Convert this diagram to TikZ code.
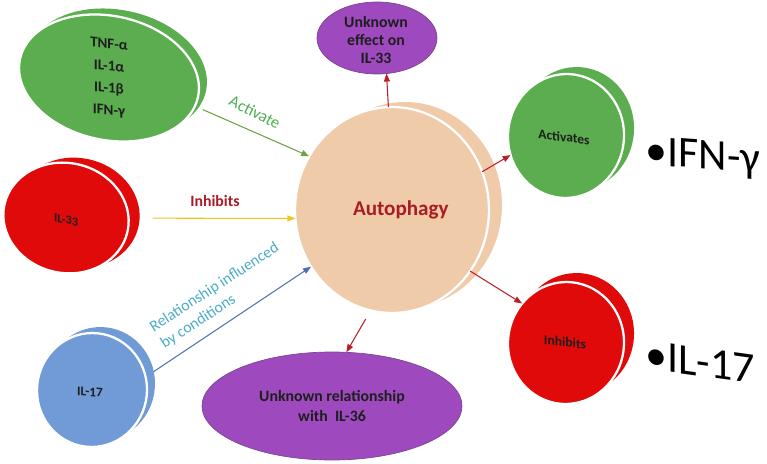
\documentclass[tikz,border=0pt]{standalone}
\usepackage{fontspec}
\setmainfont{Carlito}
\usepackage{tikz}
\usetikzlibrary{shapes.geometric, arrows.meta, positioning}
\definecolor{apgreen}{RGB}{92,172,80}
\definecolor{apred}{RGB}{224,10,10}
\definecolor{appurple}{RGB}{158,74,190}
\definecolor{appurpleline}{RGB}{120,70,140}
\definecolor{apblue}{RGB}{112,155,214}
\definecolor{appeach}{RGB}{240,203,170}
\definecolor{apdarkred}{RGB}{168,28,36}
\definecolor{aparrowred}{RGB}{188,30,40}
\definecolor{aplblgreen}{RGB}{76,175,80}
\definecolor{aplblblue}{RGB}{75,172,198}
\definecolor{apyellow}{RGB}{238,198,30}
\definecolor{apgreenarr}{RGB}{112,160,70}
\definecolor{apbluearr}{RGB}{80,110,180}
\definecolor{aptext}{RGB}{30,30,30}

\begin{document}
\begin{tikzpicture}[x=0.02cm, y=0.02cm,
  back/.style={ellipse, inner sep=0pt, outer sep=0pt},
  disc/.style={ellipse, inner sep=0pt, outer sep=0pt, draw=white, line width=1.3pt},
  disctxt/.style={text=aptext, align=center, font=\fontsize{7.7}{9}\selectfont\bfseries},
  blob/.style={ellipse, inner sep=0pt, outer sep=0pt, fill=appurple, draw=appurpleline, line width=0.4pt, text=aptext, align=center, font=\fontsize{9}{11.3}\selectfont\bfseries},
  big/.style={font=\fontsize{25}{28}\selectfont, text=black},
  arr/.style={-{Triangle[length=1.6mm, width=1.2mm]}, line width=0.6pt}
]
\useasboundingbox (0,0) rectangle (767,-463);

% incoming side
\node[back, fill=apgreen, rotate=-12, minimum width=3.64cm, minimum height=2.48cm] (cytbk) at (117,-72) {};
\node[disc, fill=apgreen, rotate=-12, minimum width=3.64cm, minimum height=2.48cm] (cyt) at (109,-78) {};
\node[disctxt, yslant=-0.1, font=\fontsize{8.5}{12.5}\selectfont\bfseries] (cyttxt) at (109,-78) {TNF-α\\IL-1α\\IL-1β\\IFN-γ};

\node[back, fill=apred, rotate=-12, minimum width=2.52cm, minimum height=2.2cm] (il33bk) at (77,-213) {};
\node[disc, fill=apred, rotate=-12, minimum width=2.52cm, minimum height=2.2cm] (il33) at (66,-218) {};
\node[disctxt, yslant=-0.18, font=\fontsize{7}{9}\selectfont\bfseries] (il33txt) at (66,-220) {IL-33};

\node[back, fill=apblue, rotate=-6, minimum width=2.2cm, minimum height=2.28cm] (il17bk) at (100,-384) {};
\node[disc, fill=apblue, rotate=-6, minimum width=2.2cm, minimum height=2.28cm] (il17) at (92,-390) {};
\node[disctxt, yslant=-0.09, font=\fontsize{7.5}{9}\selectfont\bfseries] (il17txt) at (90,-392) {IL-17};

% centre
\node[back, fill=appeach, minimum width=3.88cm, minimum height=4.12cm] (autobk) at (405,-205) {};
\node[disc, fill=appeach, minimum width=3.88cm, minimum height=4.12cm, text=apdarkred, font=\fontsize{12}{14}\selectfont\bfseries] (auto) at (392,-210) {\hspace{10pt}Autophagy};

% outgoing side
\node[blob, minimum width=2.4cm, minimum height=1.44cm] (unk33) at (377,-38) {};
\node[text=aptext, align=center, font=\fontsize{9}{10.2}\selectfont\bfseries] (unk33txt) at (376,-40) {Unknown\\effect on\\IL-33};
\node[blob, minimum width=5.2cm, minimum height=2.16cm] (unk36) at (332,-406) {Unknown relationship\\with\ \ IL-36};

\node[back, fill=apgreen, rotate=-5, minimum width=2.32cm, minimum height=2.48cm] (actvbk) at (576,-129) {};
\node[disc, fill=apgreen, rotate=-5, minimum width=2.32cm, minimum height=2.48cm] (actv) at (566,-136) {};
\node[disctxt, yslant=-0.12] (actvtxt) at (564,-137) {Activates};
\node[back, fill=apred, rotate=-5, minimum width=2.32cm, minimum height=2.44cm] (inhbbk) at (576,-334) {};
\node[disc, fill=apred, rotate=-5, minimum width=2.32cm, minimum height=2.44cm] (inhb) at (566,-343) {};
\node[disctxt, yslant=-0.12] (inhbtxt) at (565,-342) {Inhibits};

\node[big, yslant=-0.07] (ifn) at (703,-158) {•IFN-γ};
\node[big, yslant=-0.14] (il17big) at (700,-362) {•IL-17};

% connectors
\draw[arr, draw=apgreenarr, shorten <=0.1cm] (cytbk) -- (auto.147);
\draw[arr, draw=apyellow, shorten <=0.48cm] (il33) -- (auto.185);
\draw[arr, draw=apbluearr] (il17bk.19) -- (auto.215);
\draw[arr, draw=aparrowred] (auto.92) -- (unk33.-75);
\draw[arr, draw=aparrowred] (auto.23) -- (actv.204);
\draw[arr, draw=aparrowred] (auto.-38) -- (inhb.143);
\draw[arr, draw=aparrowred, shorten <=0.2cm] (auto.-102) -- (unk36.75);

\node[text=aplblgreen, rotate=-27, font=\fontsize{9.5}{11}\selectfont] (actlbl) at (255,-112) {Activate};
\node[text=apdarkred, font=\fontsize{9}{11}\selectfont\bfseries] (inhlbl) at (215,-201) {Inhibits};
\node[text=aplblblue, rotate=33, align=left, font=\fontsize{9}{11.3}\selectfont] (rellbl) at (220,-296) {Relationship influenced\\by conditions};
\end{tikzpicture}
\end{document}
